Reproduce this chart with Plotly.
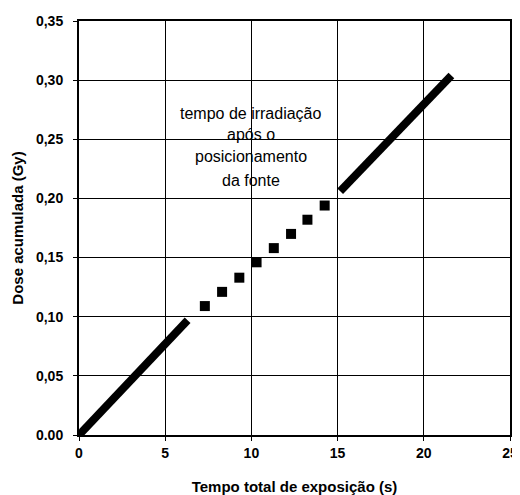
import plotly.graph_objects as go

# Data
line1_x = [0.0, 6.3]
line1_y = [0.0, 0.097]
pts_x = [7.3, 8.3, 9.3, 10.3, 11.3, 12.3, 13.25, 14.25]
pts_y = [0.109, 0.121, 0.133, 0.146, 0.158, 0.170, 0.182, 0.194]
line2_x = [15.15, 21.6]
line2_y = [0.206, 0.304]

x_ticks = [0, 5, 10, 15, 20, 25]
y_ticks = [0.0, 0.05, 0.10, 0.15, 0.20, 0.25, 0.30, 0.35]
y_ticktext = ["0.00", "0,05", "0,10", "0,15", "0,20", "0,25", "0,30", "0,35"]

note_lines = ["tempo de irradiação", "após o", "posicionamento", "da fonte"]
note_y = [0.272, 0.254, 0.2355, 0.2155]
note_x = 10.0

FONT = "Liberation Sans, Arial, sans-serif"

fig = go.Figure()
fig.add_trace(go.Scatter(x=line1_x, y=line1_y, mode="lines",
                         line=dict(color="black", width=8), showlegend=False))
fig.add_trace(go.Scatter(x=pts_x, y=pts_y, mode="markers",
                         marker=dict(symbol="square", size=10, color="black"),
                         showlegend=False))
fig.add_trace(go.Scatter(x=line2_x, y=line2_y, mode="lines",
                         line=dict(color="black", width=8), showlegend=False))

for t, yv in zip(note_lines, note_y):
    fig.add_annotation(x=note_x, y=yv, xref="x", yref="y", text=t,
                       showarrow=False, align="center",
                       font=dict(family=FONT, size=16, color="black"))

axis_common = dict(showgrid=True, gridcolor="black", gridwidth=1,
                   showline=True, linecolor="black", linewidth=2, mirror=True,
                   ticks="outside", ticklen=4, tickcolor="black", zeroline=False,
                   automargin=False,
                   tickfont=dict(family=FONT, size=14, color="black", weight="bold"))

fig.update_xaxes(range=[0, 25], tickvals=x_ticks, ticklabelstandoff=0,
                 title=dict(text="Tempo total de exposição (s)", standoff=22,
                            font=dict(family=FONT, size=15, color="black", weight="bold")),
                 **axis_common)
fig.update_yaxes(range=[0, 0.35], tickvals=y_ticks, ticktext=y_ticktext,
                 ticklabelstandoff=7,
                 title=dict(text="Dose acumulada (Gy)", standoff=9,
                            font=dict(family=FONT, size=15, color="black", weight="bold")),
                 **axis_common)

# page body adds an 8px offset, so the figure is 8px smaller than the window
fig.update_layout(width=512, height=487, plot_bgcolor="white", paper_bgcolor="white",
                  margin=dict(l=71, r=10, t=13, b=60))

fig.write_html("out.html")
